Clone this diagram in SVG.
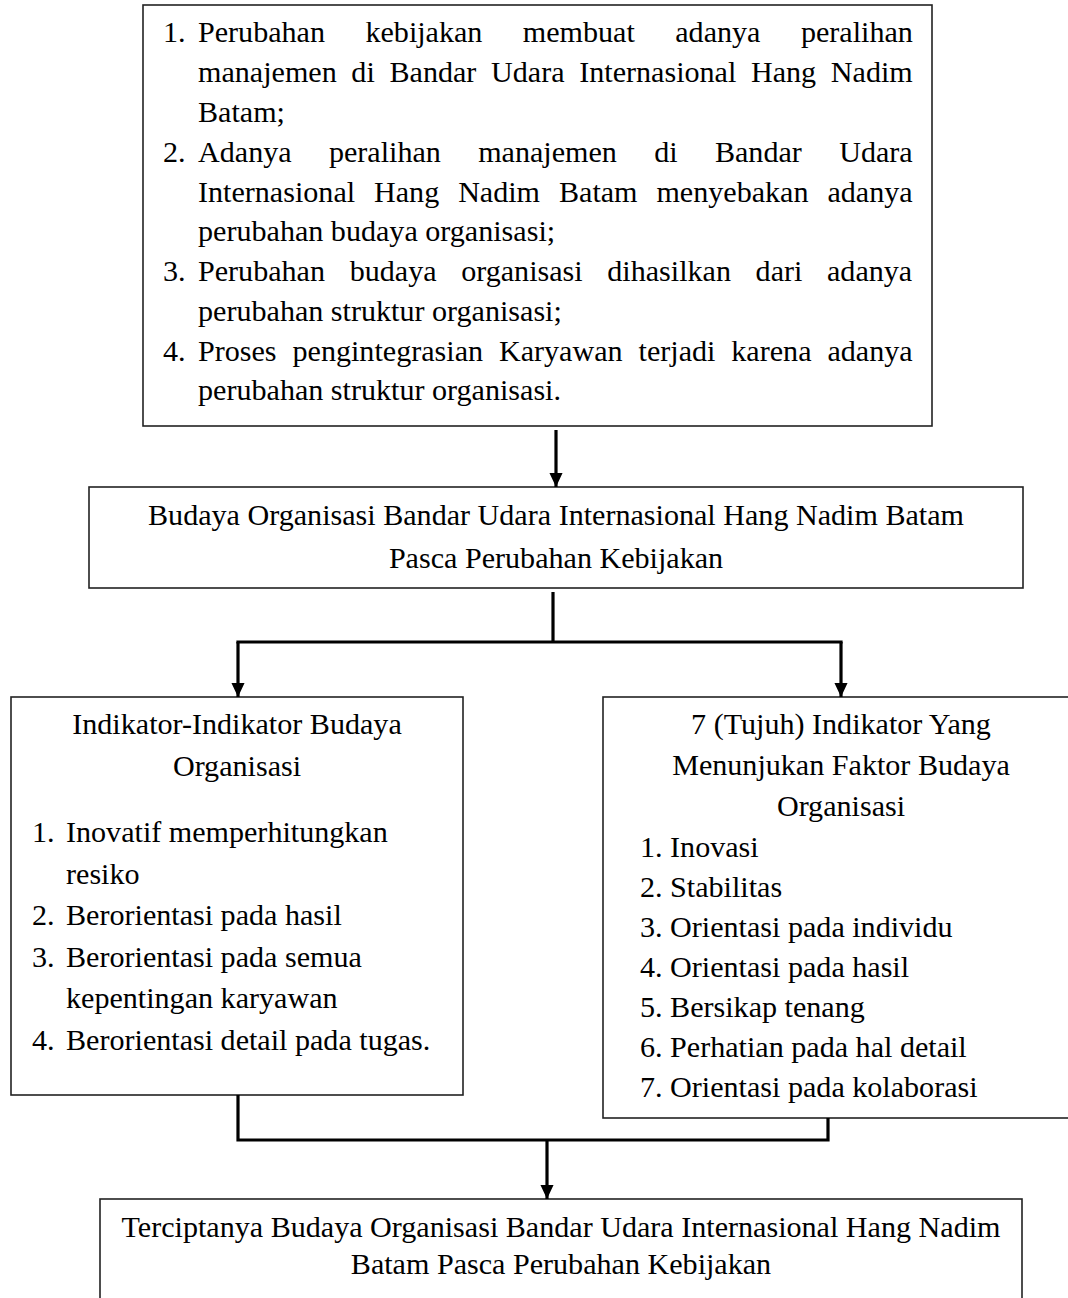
<svg xmlns="http://www.w3.org/2000/svg" width="1068" height="1298" viewBox="0 0 1068 1298">
<defs>
<style>
.box{fill:#fff;stroke:#222;stroke-width:1.6}
.t{font-family:"Liberation Serif","Times New Roman",serif;font-size:30.1px;fill:#000}
.c{text-anchor:middle}
.con{fill:none;stroke:#000;stroke-width:3.2}
</style>
<marker id="arr" markerUnits="userSpaceOnUse" markerWidth="14" markerHeight="14" viewBox="0 0 15 14" refX="15" refY="7" orient="auto">
<path d="M0,0 L15,7 L0,14 z" fill="#000"/>
</marker>
</defs>
<rect width="1068" height="1298" fill="#fff"/>

<g id="node-sebab">
<rect class="box" x="143" y="5" width="789" height="421"/>
<text class="t">
<tspan x="163" y="42">1.</tspan><tspan x="198" y="42" word-spacing="32.9">Perubahan kebijakan membuat adanya peralihan</tspan>
<tspan x="198" y="82" word-spacing="7.15">manajemen di Bandar Udara Internasional Hang Nadim</tspan>
<tspan x="198" y="122">Batam;</tspan>
<tspan x="163" y="162">2.</tspan><tspan x="198" y="162" word-spacing="29.8">Adanya peralihan manajemen di Bandar Udara</tspan>
<tspan x="198" y="202" word-spacing="11.4">Internasional Hang Nadim Batam menyebakan adanya</tspan>
<tspan x="198" y="241">perubahan budaya organisasi;</tspan>
<tspan x="163" y="281">3.</tspan><tspan x="198" y="281" word-spacing="17.1">Perubahan budaya organisasi dihasilkan dari adanya</tspan>
<tspan x="198" y="321">perubahan struktur organisasi;</tspan>
<tspan x="163" y="361">4.</tspan><tspan x="198" y="361" word-spacing="8.4">Proses pengintegrasian Karyawan terjadi karena adanya</tspan>
<tspan x="198" y="400">perubahan struktur organisasi.</tspan>
</text>
</g>

<g id="node-budaya">
<rect class="box" x="89" y="487" width="934" height="101"/>
<text class="t c" x="556" y="525">Budaya Organisasi Bandar Udara Internasional Hang Nadim Batam</text>
<text class="t c" x="556" y="568">Pasca Perubahan Kebijakan</text>
</g>

<g id="node-indikator">
<rect class="box" x="11" y="697" width="452" height="398"/>
<text class="t c" x="237" y="734">Indikator-Indikator Budaya</text>
<text class="t c" x="237" y="776">Organisasi</text>
<text class="t">
<tspan x="32" y="842">1.</tspan><tspan x="66" y="842">Inovatif memperhitungkan</tspan>
<tspan x="66" y="884">resiko</tspan>
<tspan x="32" y="925">2.</tspan><tspan x="66" y="925">Berorientasi pada hasil</tspan>
<tspan x="32" y="967">3.</tspan><tspan x="66" y="967">Berorientasi pada semua</tspan>
<tspan x="66" y="1008">kepentingan karyawan</tspan>
<tspan x="32" y="1050">4.</tspan><tspan x="66" y="1050">Berorientasi detail pada tugas.</tspan>
</text>
</g>

<g id="node-tujuh">
<rect class="box" x="603" y="697" width="475" height="421"/>
<text class="t c" x="841" y="734">7 (Tujuh) Indikator Yang</text>
<text class="t c" x="841" y="775">Menunjukan Faktor Budaya</text>
<text class="t c" x="841" y="816">Organisasi</text>
<text class="t">
<tspan x="640" y="857">1. Inovasi</tspan>
<tspan x="640" y="897">2. Stabilitas</tspan>
<tspan x="640" y="937">3. Orientasi pada individu</tspan>
<tspan x="640" y="977">4. Orientasi pada hasil</tspan>
<tspan x="640" y="1017">5. Bersikap tenang</tspan>
<tspan x="640" y="1057">6. Perhatian pada hal detail</tspan>
<tspan x="640" y="1097">7. Orientasi pada kolaborasi</tspan>
</text>
</g>

<g id="node-terciptanya">
<rect class="box" x="100" y="1199" width="922" height="120"/>
<text class="t c" x="561" y="1237">Terciptanya Budaya Organisasi Bandar Udara Internasional Hang Nadim</text>
<text class="t c" x="561" y="1274">Batam Pasca Perubahan Kebijakan</text>
</g>

<g id="connectors">
<path class="con" d="M556,430 V487" marker-end="url(#arr)"/>
<path class="con" d="M553,592 V642"/>
<path class="con" d="M238,642 H841" stroke-linecap="square"/>
<path class="con" d="M238,642 V697" marker-end="url(#arr)"/>
<path class="con" d="M841,642 V697" marker-end="url(#arr)"/>
<path class="con" d="M238,1095 V1140 H828 V1118" stroke-linejoin="miter"/>
<path class="con" d="M547,1140 V1199" marker-end="url(#arr)"/>
</g>
</svg>
